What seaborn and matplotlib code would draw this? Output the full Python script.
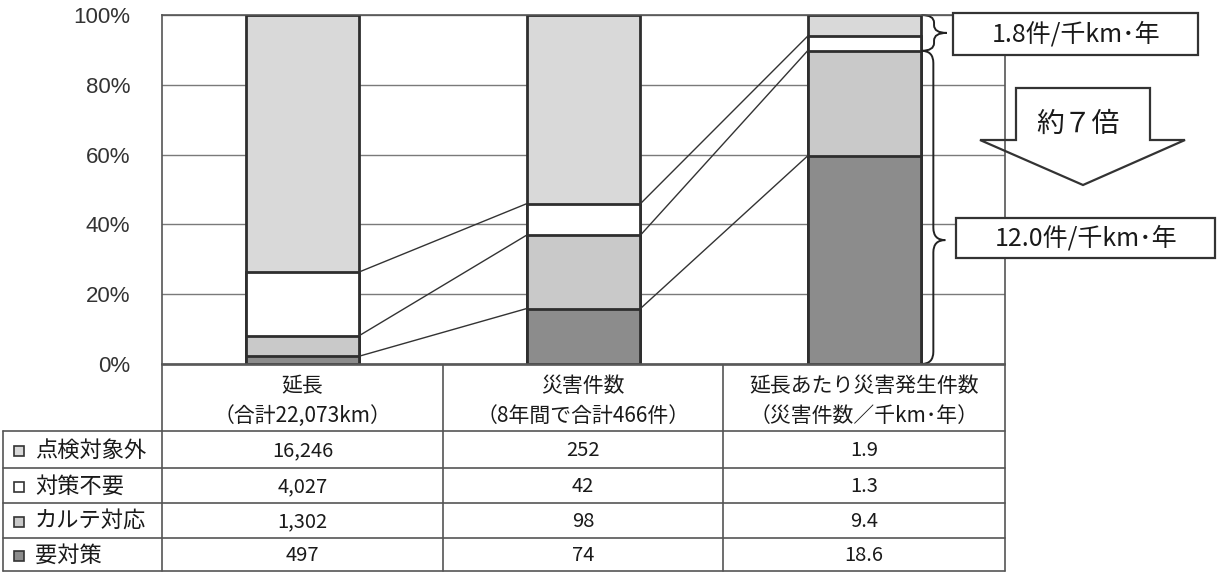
import matplotlib
matplotlib.use('Agg')
import matplotlib.pyplot as plt
import seaborn as sns
import pandas as pd
import numpy as np
from matplotlib.patches import Rectangle, Polygon, PathPatch
from matplotlib.path import Path

# Chart columns (also the table columns)
items = ['延長', '災害件数', '延長あたり災害発生件数']
item_notes = ['（合計22,073km）', '（8年間で合計466件）', '（災害件数／千km･年）']

# Stack segments, bottom first
segments = ['要対策', 'カルテ対応', '対策不要', '点検対象外']
length_km = [497, 1302, 4027, 16246]
disaster_count = [74, 98, 42, 252]
rate_per_1000km = [18.6, 9.4, 1.3, 1.9]

# Table cell texts (same order as segments)
length_labels = ['497', '1,302', '4,027', '16,246']
count_labels = ['74', '98', '42', '252']
rate_labels = ['18.6', '9.4', '1.3', '1.9']

low_rate_text = '1.8件/千km･年'
high_rate_text = '12.0件/千km･年'
ratio_text = '約７倍'

y_ticks = [0, 0.2, 0.4, 0.6, 0.8, 1.0]
y_tick_labels = ['0%', '20%', '40%', '60%', '80%', '100%']

seg_colors = {'要対策': '#8c8c8c', 'カルテ対応': '#c9c9c9',
              '対策不要': '#ffffff', '点検対象外': '#d9d9d9'}
edge = '#2e2e2e'
bar_w = 0.405

# long-form table of cumulative shares
rows = []
for item, vals in zip(items, [length_km, disaster_count, rate_per_1000km]):
    cum = np.cumsum(np.array(vals, dtype=float)) / sum(vals)
    for seg, c in zip(segments, cum):
        rows.append({'item': item, 'segment': seg, 'cum': c})
df = pd.DataFrame(rows)
cum = df.pivot(index='segment', columns='item', values='cum')

sns.set_theme(style='white')
plt.rcParams['font.family'] = ['Noto Sans CJK JP', 'DejaVu Sans']

W, H = 1217, 572
fig = plt.figure(figsize=(W / 100, H / 100), dpi=100)


def frac(x0, y0, x1, y1):
    return [x0 / W, 1 - y1 / H, (x1 - x0) / W, (y1 - y0) / H]


ax = fig.add_axes(frac(162, 15, 1005, 364))
ax.set_axisbelow(True)

# stacked bars: draw the tallest cumulative first, then overlay the shorter ones
for seg in reversed(segments):
    sns.barplot(data=df[df['segment'] == seg], x='item', y='cum', order=items,
                color=seg_colors[seg], saturation=1, width=bar_w,
                edgecolor=edge, linewidth=2.0, errorbar=None, ax=ax)

# connector lines between the segment boundaries
for seg in segments[:3]:
    for i in range(2):
        ax.plot([i + bar_w / 2, i + 1 - bar_w / 2],
                [cum.loc[seg, items[i]], cum.loc[seg, items[i + 1]]],
                color='#333333', lw=1.0, zorder=1)

ax.set_xlim(-0.5, 2.5)
ax.set_ylim(0, 1)
ax.set_xticks([])
ax.set_yticks(y_ticks)
ax.set_yticklabels(y_tick_labels, fontsize=16, color='#333333',
                   family=['Liberation Sans', 'DejaVu Sans'])
ax.tick_params(axis='y', length=0, pad=23)
ax.set_xlabel('')
ax.set_ylabel('')
ax.yaxis.grid(True, color='#7a7a7a', lw=1.0)
for s in ax.spines.values():
    s.set_color('#555555')
    s.set_linewidth(1.2)


def brace(x0, y_top, y_bot, y_tip, w, r):
    xm, xt = x0 + w / 2, x0 + w
    verts = [(x0, y_top), (xm, y_top), (xm, y_top - r),
             (xm, y_tip + r), (xm, y_tip), (xt, y_tip),
             (xm, y_tip), (xm, y_tip - r),
             (xm, y_bot + r), (xm, y_bot), (x0, y_bot)]
    codes = [Path.MOVETO, Path.CURVE3, Path.CURVE3, Path.LINETO,
             Path.CURVE3, Path.CURVE3, Path.CURVE3, Path.CURVE3,
             Path.LINETO, Path.CURVE3, Path.CURVE3]
    ax.add_patch(PathPatch(Path(verts, codes), fc='none', ec='#222222',
                           lw=1.4, clip_on=False))


x_right = 2 + bar_w / 2
split = cum.loc['カルテ対応', items[2]]
brace(x_right, 1.0, split, (1.0 + split) / 2, 0.09, 0.022)
brace(x_right, split, 0.0, 0.355, 0.085, 0.035)

# overlay in pixel coordinates for the table and call-outs
ov = fig.add_axes([0, 0, 1, 1])
ov.set_xlim(0, W)
ov.set_ylim(H, 0)
ov.axis('off')
ov.patch.set_alpha(0)

lc = '#555555'
col_edges = [162, 443, 723, 1005]
row_edges = [431, 468, 503, 538, 571]
ov.plot([162, 1005], [365, 365], color=lc, lw=1.2)
for y in row_edges:
    ov.plot([3, 1005], [y, y], color=lc, lw=1.2)
ov.plot([3, 3], [431, 571], color=lc, lw=1.2)
for x in col_edges:
    ov.plot([x, x], [365, 571], color=lc, lw=1.2)

txt = '#1a1a1a'
for i, (item, note) in enumerate(zip(items, item_notes)):
    xc = (col_edges[i] + col_edges[i + 1]) / 2
    ov.text(xc, 386, item, ha='center', va='center', fontsize=15, color=txt)
    ov.text(xc, 416, note, ha='center', va='center', fontsize=15, color=txt)

# table body rows, top row = top of the stack
table_rows = list(zip(segments, length_labels, count_labels, rate_labels))[::-1]
for r, (seg, a, b, c) in enumerate(table_rows):
    yc = (row_edges[r] + row_edges[r + 1]) / 2 + 1
    ov.add_patch(Rectangle((14, yc - 5), 10, 10, fc=seg_colors[seg],
                           ec='#333333', lw=1.2))
    ov.text(35, yc, seg, ha='left', va='center', fontsize=16, color=txt)
    for i, v in enumerate([a, b, c]):
        xc = (col_edges[i] + col_edges[i + 1]) / 2
        ov.text(xc, yc, v, ha='center', va='center', fontsize=14.5, color=txt)

# call-out boxes
ov.add_patch(Rectangle((953, 13), 245, 42, fc='white', ec='#333333', lw=1.6))
ov.text(1076, 35, low_rate_text, ha='center', va='center', fontsize=18, color=txt)
ov.add_patch(Rectangle((956, 218), 259, 40, fc='white', ec='#333333', lw=1.6))
ov.text(1086, 239, high_rate_text, ha='center', va='center', fontsize=18, color=txt)

# down arrow
arrow = [(1016, 88), (1150, 88), (1150, 140), (1185, 140), (1083, 185),
         (980, 140), (1016, 140)]
ov.add_patch(Polygon(arrow, closed=True, fc='none', ec='#333333', lw=1.6))
ov.text(1078, 124, ratio_text, ha='center', va='center', fontsize=20, color=txt)

fig.savefig('out.png', dpi=100)
